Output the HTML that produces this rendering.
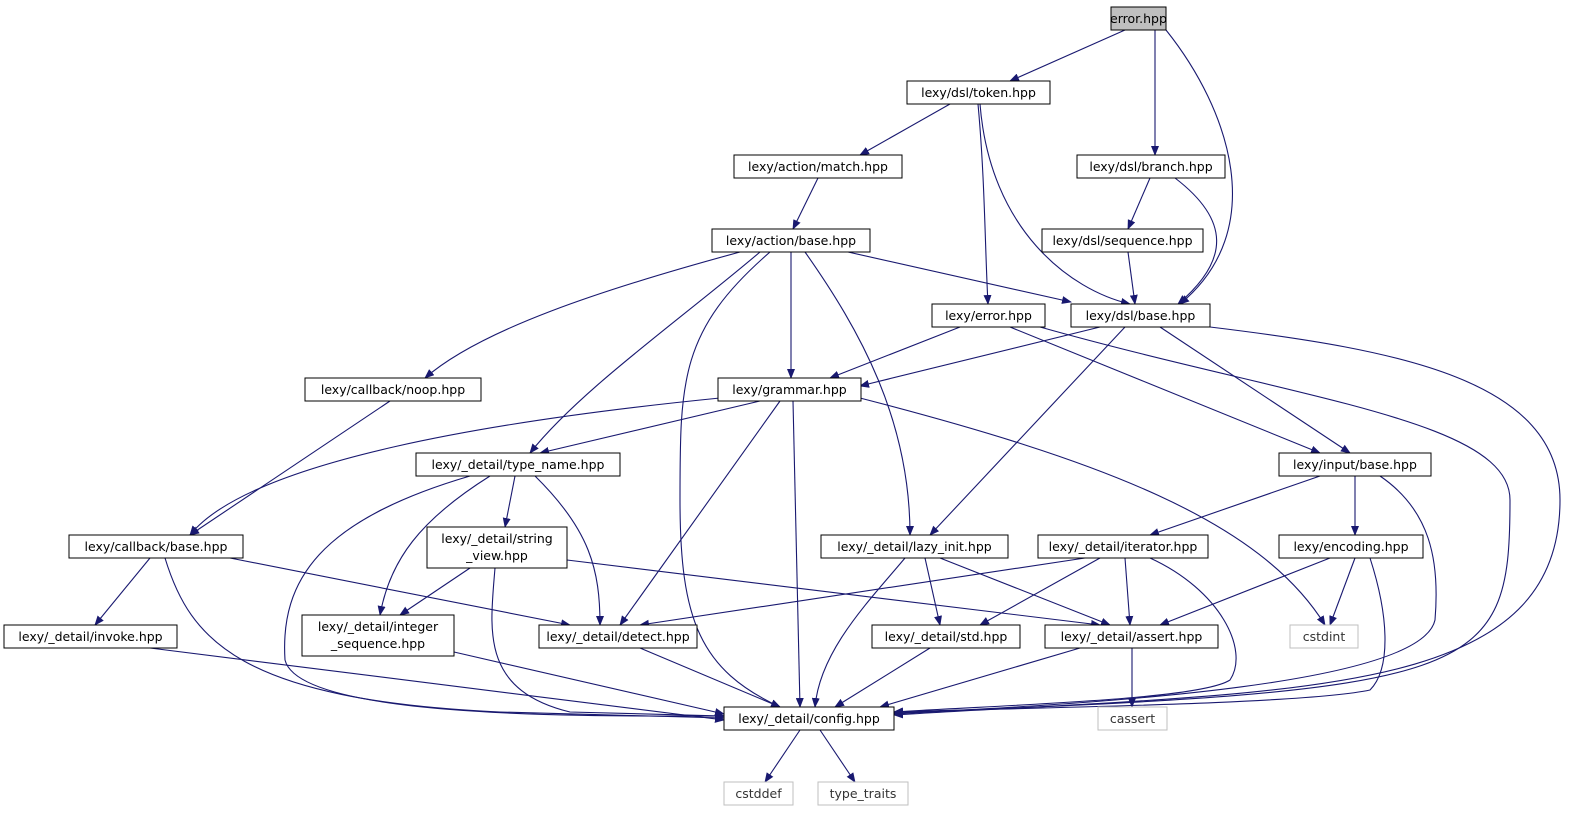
<!DOCTYPE html>
<html><head><meta charset="utf-8"><style>
html,body{margin:0;padding:0;background:#fff;}
svg{display:block;}
text{font-family:"DejaVu Sans","Liberation Sans",sans-serif;font-size:12.5px;fill:#000;}
</style></head><body>
<svg width="1572" height="813" viewBox="0 0 1572 813" xmlns="http://www.w3.org/2000/svg">
<defs><marker id="a" markerWidth="10" markerHeight="8" refX="9" refY="4" orient="auto" markerUnits="userSpaceOnUse"><path d="M0,0 L10,4 L0,8 z" fill="#191970"/></marker></defs>
<g fill="none" stroke="#191970" stroke-width="1.1" marker-end="url(#a)">
<path d="M1125,30 L1010,81"/>
<path d="M1155,30 L1155,155"/>
<path d="M1166,30 C1230,110 1270,230 1180,304"/>
<path d="M950,104 L860,155"/>
<path d="M978,104 C985,180 985,250 988,304"/>
<path d="M980,104 C990,230 1070,290 1130,304"/>
<path d="M818,178 L793,229"/>
<path d="M1150,178 L1128,229"/>
<path d="M1175,178 C1230,220 1230,260 1178,304"/>
<path d="M1128,252 L1135,304"/>
<path d="M848,252 L1071,302"/>
<path d="M740,252 C600,290 480,330 425,378"/>
<path d="M760,252 C680,320 580,390 530,453"/>
<path d="M770,252 C680,330 680,380 680,500 C680,620 700,670 780,707"/>
<path d="M791,252 L791,378"/>
<path d="M805,252 C860,330 910,420 910,535"/>
<path d="M960,327 L830,378"/>
<path d="M1010,327 L1320,453"/>
<path d="M1040,327 C1300,400 1510,420 1510,500 C1510,680 1480,690 894,713"/>
<path d="M1100,327 L860,386"/>
<path d="M1125,327 L930,535"/>
<path d="M1160,327 L1350,453"/>
<path d="M1210,327 C1400,350 1560,380 1560,500 C1560,700 1300,690 894,715"/>
<path d="M390,401 L190,535"/>
<path d="M720,398 C500,420 250,460 190,535"/>
<path d="M760,401 L540,453"/>
<path d="M780,401 L620,625"/>
<path d="M793,401 L800,707"/>
<path d="M860,398 C1100,460 1260,520 1325,625"/>
<path d="M515,476 L505,527"/>
<path d="M490,476 C420,520 390,560 380,615"/>
<path d="M535,476 C590,530 600,570 600,625"/>
<path d="M470,476 C320,520 280,580 285,660 C300,720 600,716 724,716"/>
<path d="M1320,476 L1150,535"/>
<path d="M1355,476 L1355,535"/>
<path d="M1380,476 C1430,510 1440,560 1435,620 C1420,690 1050,705 894,714"/>
<path d="M150,558 L95,625"/>
<path d="M165,558 C190,640 240,700 500,712 L724,718"/>
<path d="M230,558 L570,625"/>
<path d="M470,568 L400,615"/>
<path d="M495,568 C490,630 480,690 570,712 L724,716"/>
<path d="M567,560 L1100,625"/>
<path d="M925,558 L940,625"/>
<path d="M940,558 L1110,625"/>
<path d="M905,558 C870,600 820,650 815,707"/>
<path d="M1085,558 L640,625"/>
<path d="M1100,558 L980,625"/>
<path d="M1125,558 L1130,625"/>
<path d="M1150,558 C1220,590 1250,650 1230,680 C1200,700 1000,705 894,712"/>
<path d="M1330,558 L1160,625"/>
<path d="M1355,558 L1330,625"/>
<path d="M1370,558 C1390,620 1390,670 1370,690 C1300,705 1000,708 894,712"/>
<path d="M150,648 L724,720"/>
<path d="M454,652 L724,714"/>
<path d="M640,648 L780,707"/>
<path d="M930,648 L835,707"/>
<path d="M1080,648 L880,707"/>
<path d="M1132,648 L1132,707"/>
<path d="M800,730 L765,782"/>
<path d="M820,730 L855,782"/>
</g>
<g stroke-width="1" text-anchor="middle">
<rect x="1111" y="7" width="55" height="23" fill="#bfbfbf" stroke="#000"/><text x="1138.5" y="23">error.hpp</text>
<rect x="907" y="81" width="143" height="23" fill="#fff" stroke="#000"/><text x="978.5" y="97">lexy/dsl/token.hpp</text>
<rect x="734" y="155" width="168" height="23" fill="#fff" stroke="#000"/><text x="818" y="171">lexy/action/match.hpp</text>
<rect x="1077" y="155" width="148" height="23" fill="#fff" stroke="#000"/><text x="1151" y="171">lexy/dsl/branch.hpp</text>
<rect x="712" y="229" width="158" height="23" fill="#fff" stroke="#000"/><text x="791" y="245">lexy/action/base.hpp</text>
<rect x="1042" y="229" width="161" height="23" fill="#fff" stroke="#000"/><text x="1122.5" y="245">lexy/dsl/sequence.hpp</text>
<rect x="932" y="304" width="113" height="23" fill="#fff" stroke="#000"/><text x="988.5" y="320">lexy/error.hpp</text>
<rect x="1071" y="304" width="139" height="23" fill="#fff" stroke="#000"/><text x="1140.5" y="320">lexy/dsl/base.hpp</text>
<rect x="305" y="378" width="176" height="23" fill="#fff" stroke="#000"/><text x="393" y="394">lexy/callback/noop.hpp</text>
<rect x="718" y="378" width="143" height="23" fill="#fff" stroke="#000"/><text x="789.5" y="394">lexy/grammar.hpp</text>
<rect x="416" y="453" width="204" height="23" fill="#fff" stroke="#000"/><text x="518" y="469">lexy/_detail/type_name.hpp</text>
<rect x="1279" y="453" width="152" height="23" fill="#fff" stroke="#000"/><text x="1355" y="469">lexy/input/base.hpp</text>
<rect x="69" y="535" width="174" height="23" fill="#fff" stroke="#000"/><text x="156" y="551">lexy/callback/base.hpp</text>
<rect x="427" y="527" width="140" height="41" fill="#fff" stroke="#000"/><text x="497" y="543">lexy/_detail/string</text><text x="497" y="560">_view.hpp</text>
<rect x="821" y="535" width="187" height="23" fill="#fff" stroke="#000"/><text x="914.5" y="551">lexy/_detail/lazy_init.hpp</text>
<rect x="1038" y="535" width="170" height="23" fill="#fff" stroke="#000"/><text x="1123" y="551">lexy/_detail/iterator.hpp</text>
<rect x="1279" y="535" width="144" height="23" fill="#fff" stroke="#000"/><text x="1351" y="551">lexy/encoding.hpp</text>
<rect x="4" y="625" width="173" height="23" fill="#fff" stroke="#000"/><text x="90.5" y="641">lexy/_detail/invoke.hpp</text>
<rect x="302" y="615" width="152" height="41" fill="#fff" stroke="#000"/><text x="378" y="631">lexy/_detail/integer</text><text x="378" y="648">_sequence.hpp</text>
<rect x="539" y="625" width="158" height="23" fill="#fff" stroke="#000"/><text x="618" y="641">lexy/_detail/detect.hpp</text>
<rect x="872" y="625" width="148" height="23" fill="#fff" stroke="#000"/><text x="946" y="641">lexy/_detail/std.hpp</text>
<rect x="1045" y="625" width="173" height="23" fill="#fff" stroke="#000"/><text x="1131.5" y="641">lexy/_detail/assert.hpp</text>
<rect x="1290" y="625" width="68" height="23" fill="#fff" stroke="#bfbfbf"/><text x="1324" y="641" style="fill:#333">cstdint</text>
<rect x="724" y="707" width="170" height="23" fill="#fff" stroke="#000"/><text x="809" y="723">lexy/_detail/config.hpp</text>
<rect x="1098" y="707" width="69" height="23" fill="#fff" stroke="#bfbfbf"/><text x="1132.5" y="723" style="fill:#333">cassert</text>
<rect x="724" y="782" width="69" height="23" fill="#fff" stroke="#bfbfbf"/><text x="758.5" y="798" style="fill:#333">cstddef</text>
<rect x="818" y="782" width="90" height="23" fill="#fff" stroke="#bfbfbf"/><text x="863" y="798" style="fill:#333">type_traits</text>
</g>
</svg>
</body></html>
